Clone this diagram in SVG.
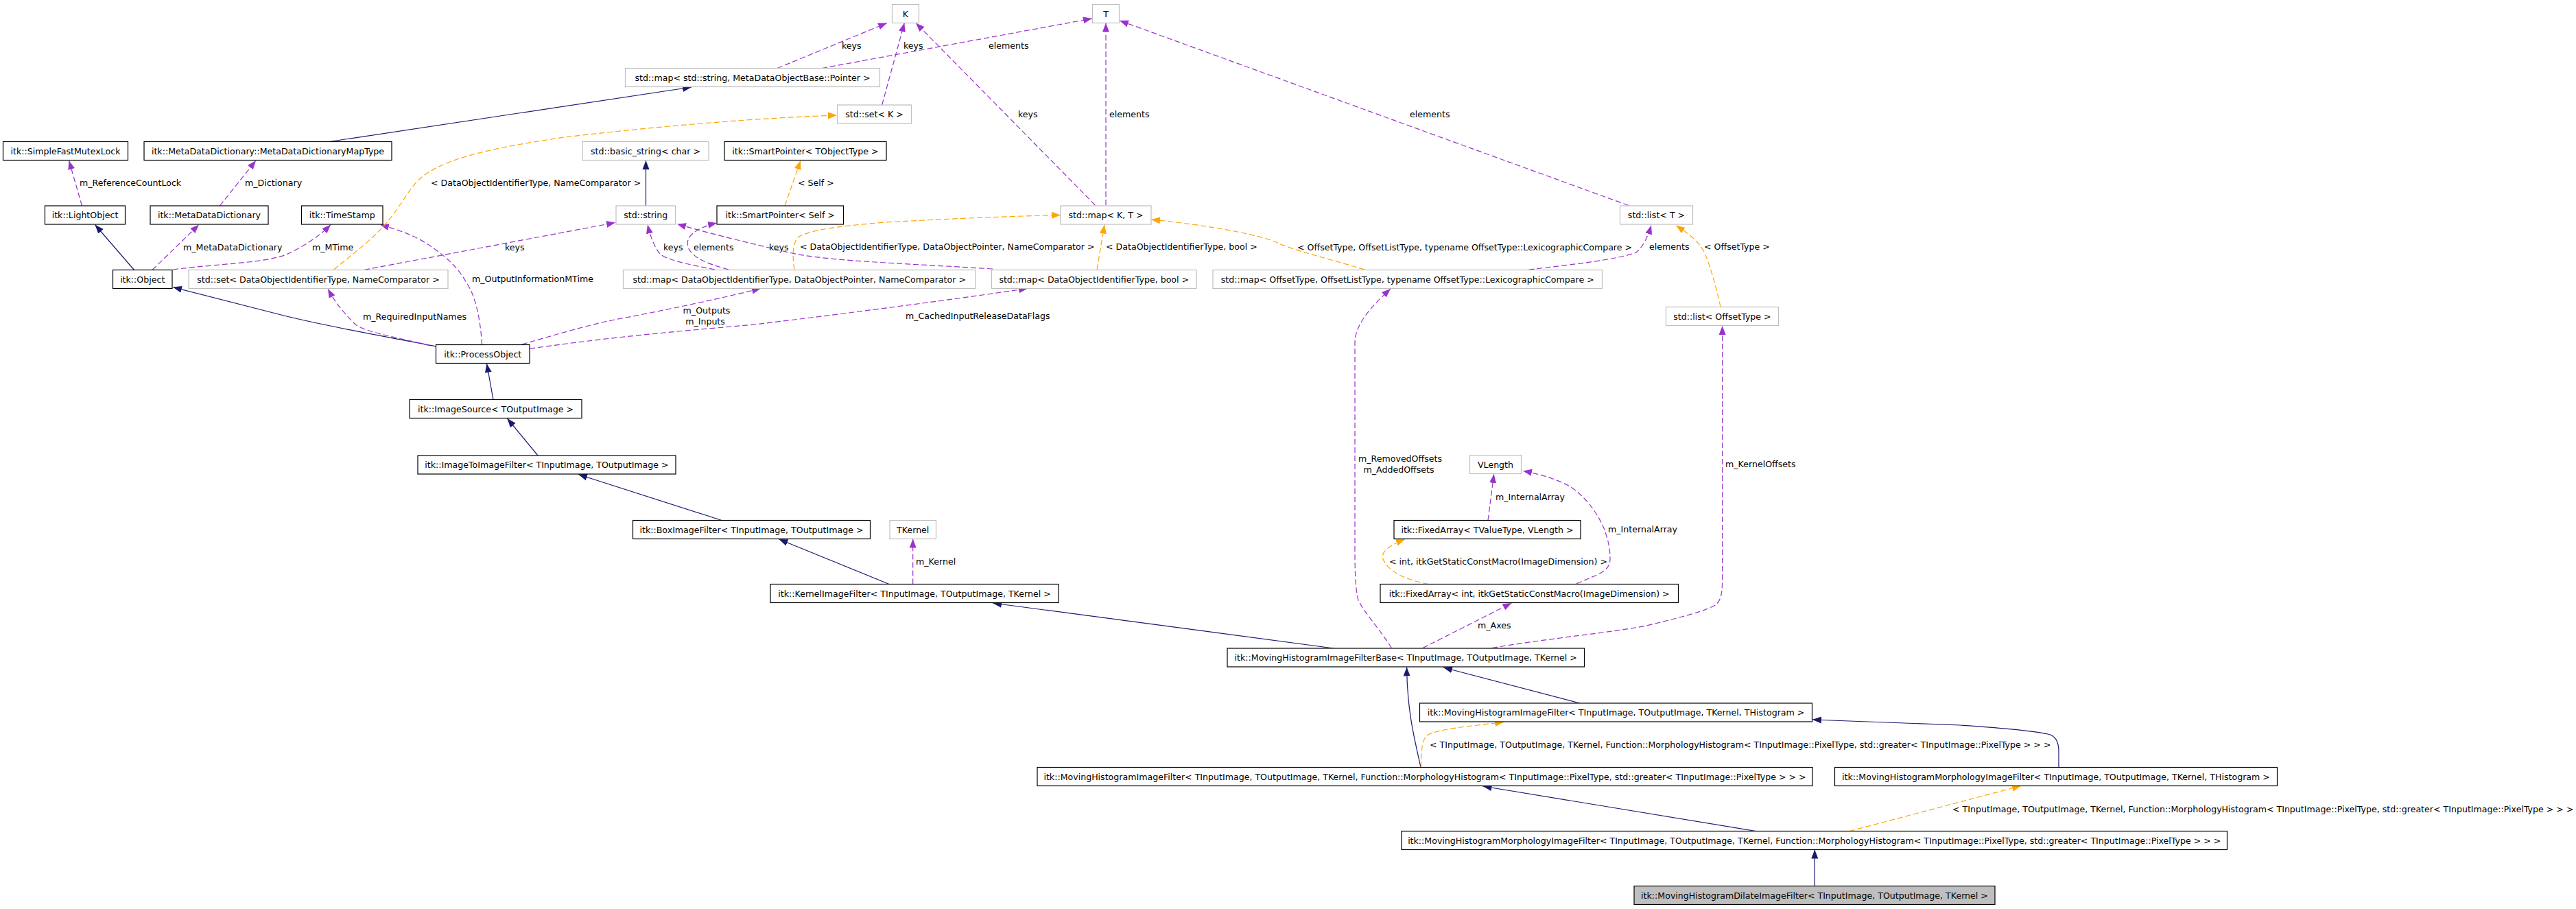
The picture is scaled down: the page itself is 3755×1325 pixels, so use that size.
<svg xmlns="http://www.w3.org/2000/svg" width="3755" height="1325" viewBox="0 0 3755 1325">
<defs>
<style>
text{font-family:"DejaVu Sans","Liberation Sans",sans-serif;font-size:12.6px;fill:#000}
.nt{text-anchor:middle}
.cls{fill:#fff;stroke:#000;stroke-width:1.2}
.ext{fill:#fff;stroke:#bfbfbf;stroke-width:1.2}
.cur{fill:#bfbfbf;stroke:#000;stroke-width:1.2}
.inh{stroke:#191970;fill:none;stroke-width:1.2;marker-end:url(#ab)}
.use{stroke:#9a32cd;fill:none;stroke-width:1.2;stroke-dasharray:8,4;marker-end:url(#ap)}
.tpl{stroke:#ffa500;fill:none;stroke-width:1.2;stroke-dasharray:8,4;marker-end:url(#ao)}
.mid{text-anchor:middle}
</style>
<marker id="ab" viewBox="0 0 14 12" refX="13" refY="6" markerWidth="14" markerHeight="12" markerUnits="userSpaceOnUse" orient="auto"><path d="M0,1 L13,6 L0,11 z" fill="#191970"/></marker>
<marker id="ap" viewBox="0 0 14 12" refX="13" refY="6" markerWidth="14" markerHeight="12" markerUnits="userSpaceOnUse" orient="auto"><path d="M0,1 L13,6 L0,11 z" fill="#9a32cd"/></marker>
<marker id="ao" viewBox="0 0 14 12" refX="13" refY="6" markerWidth="14" markerHeight="12" markerUnits="userSpaceOnUse" orient="auto"><path d="M0,1 L13,6 L0,11 z" fill="#ffa500"/></marker>
</defs>
<rect width="3755" height="1325" fill="#fff"/>
<g id="connectors">
<g><path class="use" d="M119.5,300 L100.5,234"/><text x="116" y="271">m_ReferenceCountLock</text></g>
<g><path class="use" d="M320.5,300 L373,234"/><text x="357" y="271">m_Dictionary</text></g>
<g><path class="inh" d="M195.5,393.5 L138.5,327.5"/></g>
<g><path class="use" d="M222,393.5 L290,327.5"/><text x="267" y="364.5">m_MetaDataDictionary</text></g>
<g><path class="use" d="M252,393 C310,385 380,384 415,372 C440,361 465,345 482,327.5"/><text x="455" y="364.5">m_MTime</text></g>
<g><path class="use" d="M702.5,502.5 C700,460 692,430 680,412 C665,385 640,365 610,348 C590,338 570,332 554,327.5"/><text x="688" y="411">m_OutputInformationMTime</text></g>
<g><path class="inh" d="M636,505 C560,490 470,475 402,457 L252,418.5"/></g>
<g><path class="use" d="M625,503.3 C580,492 535,485 518,473 C500,455 488,440 478,421"/><text x="529" y="465.5">m_RequiredInputNames</text></g>
<g><path class="tpl" d="M486.6,393 C520,365 550,345 575,310 C590,290 600,270 615,258 C650,230 720,215 823,200 C950,185 1100,172 1220,168"/><text x="628" y="271">&lt; DataObjectIdentifierType, NameComparator &gt;</text></g>
<g><path class="use" d="M531,393.3 L897,324.5"/><text x="736" y="364.5">keys</text></g>
<g><path class="inh" d="M941.5,300 L941.5,234"/></g>
<g><path class="tpl" d="M1144,300 L1167,234"/><text x="1163" y="271">&lt; Self &gt;</text></g>
<g><path class="use" d="M760.7,502 C820,485 870,470 912,463 C980,450 1050,435 1109,420.5"/><text class="mid" x="1030" y="457">m_Outputs</text><text class="mid" x="1028" y="473">m_Inputs</text></g>
<g><path class="use" d="M772,508.3 C900,490 1000,482 1100,473 C1250,455 1400,435 1498,420.5"/><text x="1320" y="465">m_CachedInputReleaseDataFlags</text></g>
<g><path class="use" d="M1042,393 C1000,385 970,378 962,370 C954,360 948,345 944,327.5"/><text x="967" y="364.5">keys</text></g>
<g><path class="use" d="M1062,393 C1035,385 1010,378 1003,360 C998,345 1015,332 1045,325"/><text x="1011" y="364.5">elements</text></g>
<g><path class="use" d="M1447,392 C1300,383 1200,380 1150,368 C1100,356 1040,342 987,326.5"/><text x="1121" y="364.5">keys</text></g>
<g><path class="tpl" d="M1158,393 C1155,375 1155,355 1163,346 C1180,335 1220,330 1290,324 C1400,318 1480,315 1546,313.5"/><text x="1166" y="364">&lt; DataObjectIdentifierType, DataObjectPointer, NameComparator &gt;</text></g>
<g><path class="tpl" d="M1599,393 L1610,327.5"/><text x="1612" y="364">&lt; DataObjectIdentifierType, bool &gt;</text></g>
<g><path class="tpl" d="M1989,393 C1930,375 1885,365 1860,353 C1835,342 1760,328 1678,320"/><text x="1891" y="364.5">&lt; OffsetType, OffsetListType, typename OffsetType::LexicographicCompare &gt;</text></g>
<g><path class="use" d="M2228.6,393 C2290,386 2360,378 2385,368 C2395,360 2402,345 2407,328.5"/><text x="2404" y="364">elements</text></g>
<g><path class="tpl" d="M2508,447.5 C2500,410 2490,380 2484,367 C2475,350 2460,340 2443,328.5"/><text x="2484" y="364">&lt; OffsetType &gt;</text></g>
<g><path class="use" d="M2374,299.5 L1632,30"/><text x="2055" y="171">elements</text></g>
<g><path class="use" d="M1612,299 L1612,33.5"/><text x="1617" y="171">elements</text></g>
<g><path class="use" d="M1596.4,299 L1335,33.5"/><text x="1484" y="171">keys</text></g>
<g><path class="use" d="M1285.7,153 L1318.3,33.5"/><text x="1317" y="71">keys</text></g>
<g><path class="use" d="M1133,99.5 L1293,33.5"/><text x="1227" y="71">keys</text></g>
<g><path class="use" d="M1198,99.5 L1592,27"/><text x="1441" y="71">elements</text></g>
<g><path class="inh" d="M480,206.5 L1008,127"/></g>
<g><path class="inh" d="M719,582.5 L709.5,530"/></g>
<g><path class="inh" d="M784,664 L739.5,610"/></g>
<g><path class="inh" d="M1052,758.5 L843,691.5"/></g>
<g><path class="inh" d="M1296,851.5 L1135.5,786"/></g>
<g><path class="use" d="M1330.7,851.5 L1330.7,785.5"/><text x="1335" y="823">m_Kernel</text></g>
<g><path class="inh" d="M1944,945 L1447,879"/></g>
<g><path class="use" d="M2028.4,944.5 C2010,915 1990,895 1980,875 C1976,860 1975,840 1975,800 L1975,500 C1975,475 1995,450 2027,421"/><text class="mid" x="2041" y="673">m_RemovedOffsets</text><text class="mid" x="2039" y="689">m_AddedOffsets</text></g>
<g><path class="use" d="M2074,944.5 L2203.5,879"/><text x="2154" y="916">m_Axes</text></g>
<g><path class="use" d="M2175,944.5 C2260,930 2350,922 2400,912 C2450,900 2490,890 2503,880 C2510,872 2510.6,860 2510.6,840 L2510.6,475"/><text x="2515" y="681">m_KernelOffsets</text></g>
<g><path class="use" d="M2169,758.5 L2177.7,691"/><text x="2180" y="729">m_InternalArray</text></g>
<g><path class="use" d="M2298,851 C2325,838 2347,835 2347,815 C2347,800 2345,790 2338,770 C2325,740 2305,720 2290,710 C2270,698 2240,690 2220,686.5"/><text x="2344" y="776">m_InternalArray</text></g>
<g><path class="tpl" d="M2082,851.5 C2050,845 2025,835 2016,815 C2012,805 2025,795 2048,786"/><text x="2025" y="823">&lt; int, itkGetStaticConstMacro(ImageDimension) &gt;</text></g>
<g><path class="inh" d="M2303,1025 L2104,973"/></g>
<g><path class="inh" d="M2071,1118.5 C2064,1085 2051,1040 2050.6,972.5"/></g>
<g><path class="tpl" d="M2071.3,1118.5 C2072,1095 2072,1080 2080,1072 C2095,1062 2150,1058 2192,1052.5"/><text x="2084" y="1089.5">&lt; TInputImage, TOutputImage, TKernel, Function::MorphologyHistogram&lt; TInputImage::PixelType, std::greater&lt; TInputImage::PixelType &gt; &gt; &gt;</text></g>
<g><path class="inh" d="M3001,1118.5 L3001,1095 C3001,1080 2995,1072 2985,1070 C2960,1064 2900,1060 2857,1057 L2642,1049"/></g>
<g><path class="inh" d="M2559.4,1211.5 L2161.5,1146"/></g>
<g><path class="tpl" d="M2696,1211.5 L2946,1145.5"/><text x="2846" y="1183.5">&lt; TInputImage, TOutputImage, TKernel, Function::MorphologyHistogram&lt; TInputImage::PixelType, std::greater&lt; TInputImage::PixelType &gt; &gt; &gt;</text></g>
<g><path class="inh" d="M2645.3,1291.5 L2645.3,1238.5"/></g>
</g>
<g id="n_k"><rect class="ext" x="1300.5" y="6.5" width="39" height="27"/><text class="nt" x="1320" y="24.5">K</text></g>
<g id="n_t"><rect class="ext" x="1592.5" y="6.5" width="39" height="27"/><text class="nt" x="1612" y="24.5">T</text></g>
<g id="n_mapstr"><rect class="ext" x="911.5" y="99.5" width="371" height="27"/><text class="nt" x="1097" y="117.5">std::map&lt; std::string, MetaDataObjectBase::Pointer &gt;</text></g>
<g id="n_setk"><rect class="ext" x="1220.5" y="153" width="108" height="27"/><text class="nt" x="1274.5" y="171">std::set&lt; K &gt;</text></g>
<g id="n_sfml"><rect class="cls" x="4.5" y="206.5" width="182" height="27"/><text class="nt" x="95.5" y="224.5">itk::SimpleFastMutexLock</text></g>
<g id="n_maptype"><rect class="cls" x="210" y="206.5" width="361" height="27"/><text class="nt" x="390.5" y="224.5">itk::MetaDataDictionary::MetaDataDictionaryMapType</text></g>
<g id="n_basicstr"><rect class="ext" x="849" y="206.5" width="184" height="27"/><text class="nt" x="941" y="224.5">std::basic_string&lt; char &gt;</text></g>
<g id="n_sptobj"><rect class="cls" x="1056" y="206.5" width="236" height="27"/><text class="nt" x="1174" y="224.5">itk::SmartPointer&lt; TObjectType &gt;</text></g>
<g id="n_lightobj"><rect class="cls" x="65.5" y="300" width="117" height="27"/><text class="nt" x="124" y="318">itk::LightObject</text></g>
<g id="n_mdd"><rect class="cls" x="219" y="300" width="172" height="27"/><text class="nt" x="305" y="318">itk::MetaDataDictionary</text></g>
<g id="n_timestamp"><rect class="cls" x="439.5" y="300" width="118.5" height="27"/><text class="nt" x="498.75" y="318">itk::TimeStamp</text></g>
<g id="n_string"><rect class="ext" x="898" y="300" width="86.5" height="27"/><text class="nt" x="941.25" y="318">std::string</text></g>
<g id="n_spself"><rect class="cls" x="1045" y="300" width="184.5" height="27"/><text class="nt" x="1137.25" y="318">itk::SmartPointer&lt; Self &gt;</text></g>
<g id="n_mapkt"><rect class="ext" x="1546" y="300" width="132" height="27"/><text class="nt" x="1612" y="318">std::map&lt; K, T &gt;</text></g>
<g id="n_listt"><rect class="ext" x="2361.5" y="300" width="106" height="27"/><text class="nt" x="2414.5" y="318">std::list&lt; T &gt;</text></g>
<g id="n_object"><rect class="cls" x="164.5" y="393.5" width="86.5" height="27"/><text class="nt" x="207.75" y="411.5">itk::Object</text></g>
<g id="n_setdoit"><rect class="ext" x="275" y="393.5" width="378" height="27"/><text class="nt" x="464" y="411.5">std::set&lt; DataObjectIdentifierType, NameComparator &gt;</text></g>
<g id="n_mapdop"><rect class="ext" x="908.5" y="393.5" width="513.5" height="27"/><text class="nt" x="1165.25" y="411.5">std::map&lt; DataObjectIdentifierType, DataObjectPointer, NameComparator &gt;</text></g>
<g id="n_mapbool"><rect class="ext" x="1445.5" y="393.5" width="298.5" height="27"/><text class="nt" x="1594.75" y="411.5">std::map&lt; DataObjectIdentifierType, bool &gt;</text></g>
<g id="n_mapoff"><rect class="ext" x="1768" y="393.5" width="567.5" height="27"/><text class="nt" x="2051.75" y="411.5">std::map&lt; OffsetType, OffsetListType, typename OffsetType::LexicographicCompare &gt;</text></g>
<g id="n_listoff"><rect class="ext" x="2428.5" y="447.5" width="164" height="27"/><text class="nt" x="2510.5" y="465.5">std::list&lt; OffsetType &gt;</text></g>
<g id="n_po"><rect class="cls" x="635.5" y="502.5" width="136.5" height="27"/><text class="nt" x="703.75" y="520.5">itk::ProcessObject</text></g>
<g id="n_imgsrc"><rect class="cls" x="597" y="582.5" width="251" height="27"/><text class="nt" x="722.5" y="600.5">itk::ImageSource&lt; TOutputImage &gt;</text></g>
<g id="n_i2i"><rect class="cls" x="609" y="664" width="376" height="27"/><text class="nt" x="797" y="682">itk::ImageToImageFilter&lt; TInputImage, TOutputImage &gt;</text></g>
<g id="n_box"><rect class="cls" x="922.5" y="758.5" width="346" height="27"/><text class="nt" x="1095.5" y="776.5">itk::BoxImageFilter&lt; TInputImage, TOutputImage &gt;</text></g>
<g id="n_tkernel"><rect class="ext" x="1297" y="758.5" width="67.5" height="27"/><text class="nt" x="1330.75" y="776.5">TKernel</text></g>
<g id="n_kernel"><rect class="cls" x="1123" y="851.5" width="420" height="27"/><text class="nt" x="1333" y="869.5">itk::KernelImageFilter&lt; TInputImage, TOutputImage, TKernel &gt;</text></g>
<g id="n_vlength"><rect class="ext" x="2142.5" y="663.5" width="75" height="27"/><text class="nt" x="2180" y="681.5">VLength</text></g>
<g id="n_fatv"><rect class="cls" x="2032" y="758.5" width="272" height="27"/><text class="nt" x="2168" y="776.5">itk::FixedArray&lt; TValueType, VLength &gt;</text></g>
<g id="n_faint"><rect class="cls" x="2012" y="851.5" width="434.5" height="27"/><text class="nt" x="2229.25" y="869.5">itk::FixedArray&lt; int, itkGetStaticConstMacro(ImageDimension) &gt;</text></g>
<g id="n_mhifbase"><rect class="cls" x="1789" y="945" width="520.5" height="27"/><text class="nt" x="2049.25" y="963">itk::MovingHistogramImageFilterBase&lt; TInputImage, TOutputImage, TKernel &gt;</text></g>
<g id="n_mhifth"><rect class="cls" x="2069.5" y="1025" width="572" height="27"/><text class="nt" x="2355.5" y="1043">itk::MovingHistogramImageFilter&lt; TInputImage, TOutputImage, TKernel, THistogram &gt;</text></g>
<g id="n_mhifmorph"><rect class="cls" x="1512" y="1118.5" width="1130" height="27"/><text class="nt" x="2077" y="1136.5">itk::MovingHistogramImageFilter&lt; TInputImage, TOutputImage, TKernel, Function::MorphologyHistogram&lt; TInputImage::PixelType, std::greater&lt; TInputImage::PixelType &gt; &gt; &gt;</text></g>
<g id="n_mhmorphth"><rect class="cls" x="2674.5" y="1118.5" width="645" height="27"/><text class="nt" x="2997" y="1136.5">itk::MovingHistogramMorphologyImageFilter&lt; TInputImage, TOutputImage, TKernel, THistogram &gt;</text></g>
<g id="n_mhmorphfn"><rect class="cls" x="2043" y="1211.5" width="1203.5" height="27"/><text class="nt" x="2644.75" y="1229.5">itk::MovingHistogramMorphologyImageFilter&lt; TInputImage, TOutputImage, TKernel, Function::MorphologyHistogram&lt; TInputImage::PixelType, std::greater&lt; TInputImage::PixelType &gt; &gt; &gt;</text></g>
<g id="n_dilate"><rect class="cur" x="2382" y="1291.5" width="526" height="27"/><text class="nt" x="2645" y="1309.5">itk::MovingHistogramDilateImageFilter&lt; TInputImage, TOutputImage, TKernel &gt;</text></g>
</svg>
